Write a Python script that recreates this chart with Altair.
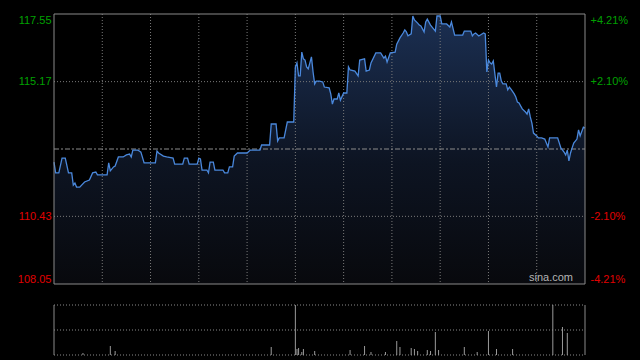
import altair as alt
import pandas as pd

# ---------------- data ----------------
minutes = [0, 1, 3, 5, 7, 9, 11, 12, 13, 14, 16, 19, 22, 24, 26, 27, 33, 34, 35, 37, 38, 40, 43, 45, 47, 48, 49,
           52, 53, 54, 56, 63, 64, 65, 68, 70, 74, 75, 80, 81, 83, 84, 89, 90, 91, 92, 95, 96, 97, 99, 100, 105,
           106, 108, 109, 111, 112, 114, 120, 122, 128, 129, 134, 135, 138, 139, 140, 143, 145, 149,
           150, 151, 152, 153, 154, 155, 156, 157, 158, 160, 161, 162, 163, 165, 167, 168, 171, 172, 173, 174,
           176, 177, 178, 180, 182, 183, 184, 187, 189, 190, 193, 194, 196, 197, 200, 203, 205, 206, 207, 209,
           212, 213, 215, 217, 218, 219, 220, 222, 223, 224, 226, 227, 228, 230, 231, 232, 234, 236, 237, 238,
           240, 241, 244, 246, 247, 249, 254, 255, 259, 260, 261, 262, 264, 265, 267, 268, 269, 270, 271, 272,
           273, 275, 276, 277, 278, 279, 281, 282, 283, 284, 286, 287, 288, 289, 291, 293, 294, 295, 296, 297,
           298, 300, 301, 303, 305, 306, 307, 308, 313, 315, 317, 318, 319, 320, 321, 322, 323, 325, 326, 327,
           329, 330]
prices = [112.34, 111.96, 111.96, 112.48, 112.48, 111.96, 111.96, 111.53, 111.60, 111.46, 111.46, 111.64, 111.71,
          111.96, 111.99, 111.89, 111.89, 112.31, 112.03, 112.17, 112.20, 112.52, 112.52, 112.59, 112.62, 112.52,
          112.76, 112.76, 112.73, 112.69, 112.31, 112.31, 112.73, 112.66, 112.55, 112.52, 112.48, 112.27, 112.27,
          112.48, 112.48, 112.27, 112.27, 112.48, 112.45, 112.06, 112.06, 111.96, 112.34, 112.34, 112.06, 112.06,
          111.96, 111.96, 112.17, 112.17, 112.55, 112.66, 112.66, 112.76, 112.76, 112.94, 112.94, 113.68, 113.68,
          113.08, 113.19, 113.19, 113.75, 113.75,
          115.69, 115.83, 115.37, 115.37, 116.21, 115.97, 115.93, 115.69, 115.62, 116.04, 115.51, 115.09, 115.19,
          115.19, 115.16, 114.98, 114.95, 114.74, 114.38, 114.56, 114.56, 114.77, 114.52, 114.77, 114.77, 115.69,
          115.58, 115.54, 115.37, 115.93, 115.97, 115.54, 115.58, 115.83, 116.18, 116.18, 116.00, 116.07, 115.86,
          116.18, 116.21, 116.49, 116.71, 116.88, 116.99, 116.92, 116.78, 116.85, 117.48, 117.34, 117.23, 117.16,
          117.13, 116.92, 117.27, 117.37, 117.16, 117.02, 116.95, 117.48, 117.48, 117.20, 117.20, 117.09, 117.27,
          116.81, 116.81, 116.95, 116.95, 116.78, 116.85, 116.88, 116.78, 116.81, 116.88, 116.85, 115.51, 115.93,
          115.83, 115.79, 115.90, 114.98, 115.47, 115.47, 115.19, 115.09, 115.09, 114.88, 114.98, 114.91, 114.74,
          114.63, 114.45, 114.42, 114.21, 114.10, 114.03, 114.21, 113.93, 113.71, 113.36, 113.26, 113.19, 113.19,
          113.15, 113.01, 112.87, 113.19, 113.19, 112.84, 112.69, 112.59, 112.76, 112.38, 112.66, 112.84, 113.01,
          113.15, 113.47, 113.26, 113.57, 113.54]

vol_minutes = [18, 35, 38, 135, 150, 151, 152, 154, 155, 162, 184, 193, 197, 206, 213, 215, 222, 224, 226, 232,
               234, 237, 239, 255, 263, 270, 275, 285, 310, 316, 319]
vol_values = [4, 18, 8, 16, 100, 12, 14, 6, 12, 8, 10, 18, 6, 6, 28, 16, 14, 12, 8, 10, 8, 46, 10, 16, 6, 48,
              12, 12, 100, 56, 44]

grid_minutes = [30, 60, 90, 120, 150, 180, 210, 240, 270, 300]
price_ticks = [117.55, 115.17, 110.43, 108.05]
pct_ticks = [4.21, 2.10, -2.10, -4.21]
prev_close = 112.80
p_min, p_max = 108.05, 117.55
pct_lim = 4.21
vol_max = 100
total_minutes = 330

# ---------------- layout ----------------
W, H = 531, 341
PRICE_H = 270
VOL_TOP, VOL_BOT = 291, 341
FONT = "Liberation Sans"
GRID = "#7a7a7a"


def xs():
    return alt.Scale(domain=[0, total_minutes], nice=False, zero=False)


def ps():
    return alt.Scale(domain=[p_min, p_max], range=[PRICE_H, 0], nice=False, zero=False)


def vs():
    return alt.Scale(domain=[0, vol_max], range=[VOL_BOT, VOL_TOP], nice=False, zero=False, clamp=True)


price_df = pd.DataFrame({"m": minutes, "p": prices})
vol_df = pd.DataFrame({"m": vol_minutes, "v": vol_values})
hgrid_df = pd.DataFrame({"v": [price_ticks[1], price_ticks[2]]})
vgrid_df = pd.DataFrame({"m": grid_minutes})
one_df = pd.DataFrame({"k": [0]})

area = alt.Chart(price_df).mark_area(
    color=alt.Gradient(
        gradient="linear",
        stops=[alt.GradientStop(color="#1b2f52", offset=0),
               alt.GradientStop(color="#0d1422", offset=0.55),
               alt.GradientStop(color="#08090d", offset=1)],
        x1=0, x2=0, y1=0, y2=1),
).encode(
    x=alt.X("m:Q", scale=xs(), axis=None),
    y=alt.Y("p:Q", scale=ps(), axis=None),
    y2=alt.datum(p_min),
)

hgrid = alt.Chart(hgrid_df).mark_rule(color=GRID, strokeDash=[1, 2], strokeWidth=1).encode(
    y=alt.Y("v:Q", scale=ps(), axis=None),
    x=alt.XDatum(0, type="quantitative", scale=xs(), axis=None),
    x2=alt.datum(total_minutes),
)

vgrid = alt.Chart(vgrid_df).mark_rule(color=GRID, strokeDash=[1, 2], strokeWidth=1).encode(
    x=alt.X("m:Q", scale=xs(), axis=None),
    y=alt.YDatum(p_max, type="quantitative", scale=ps(), axis=None),
    y2=alt.datum(p_min),
)

midline = alt.Chart(one_df).mark_rule(color="#8c8c8c", strokeDash=[5, 2, 2, 2], strokeWidth=1).encode(
    y=alt.YDatum(0, type="quantitative",
                 scale=alt.Scale(domain=[-pct_lim, pct_lim], range=[PRICE_H, 0], nice=False, zero=False),
                 axis=alt.Axis(orient="right", values=pct_ticks, title=None, ticks=False, domain=False,
                               grid=False, labelFlush=True, labelPadding=5, labelFont=FONT, labelFontSize=11,
                               labelExpr="(datum.value > 0 ? '+' : '-') + format(abs(datum.value), '.2f') + '%'",
                               labelColor={"condition": {"test": "datum.value > 0", "value": "#00a000"},
                                           "value": "#e00000"})),
    x=alt.XDatum(0, type="quantitative", scale=xs(), axis=None),
    x2=alt.datum(total_minutes),
)

line = alt.Chart(price_df).mark_line(color="#4a88dc", strokeWidth=1.3).encode(
    x=alt.X("m:Q", scale=xs(), axis=None),
    y=alt.Y("p:Q", scale=ps(),
            axis=alt.Axis(orient="left", values=price_ticks, format=".2f", title=None, ticks=False,
                          domain=False, grid=False, labelFlush=True, labelPadding=3, labelFont=FONT,
                          labelFontSize=11,
                          labelColor={"condition": {"test": f"datum.value > {prev_close}", "value": "#00a000"},
                                      "value": "#e00000"})),
)

frame = alt.Chart(one_df).mark_rect(fill="transparent", stroke="#8a8a8a", strokeWidth=1).encode(
    x=alt.XDatum(0, type="quantitative", scale=xs(), axis=None),
    x2=alt.datum(total_minutes),
    y=alt.YDatum(p_max, type="quantitative", scale=ps(), axis=None),
    y2=alt.datum(p_min),
)

sina = alt.Chart(one_df).mark_text(
    text="sina.com", align="right", baseline="bottom", color="#b4b4b4", font=FONT, fontSize=11, dx=-12, dy=-1
).encode(
    x=alt.XDatum(total_minutes, type="quantitative", scale=xs(), axis=None),
    y=alt.YDatum(p_min, type="quantitative", scale=ps(), axis=None),
)

# volume panel
vol_lines_df = pd.DataFrame({"v": [vol_max, vol_max / 2, 0]})
vol_grid = alt.Chart(vol_lines_df).mark_rule(color="#8a8a8a", strokeDash=[1, 2], strokeWidth=1).encode(
    y=alt.Y("v:Q", scale=vs(), axis=None),
    x=alt.XDatum(0, type="quantitative", scale=xs(), axis=None),
    x2=alt.datum(total_minutes),
)

vol_side_df = pd.DataFrame({"m": [0, total_minutes]})
vol_sides = alt.Chart(vol_side_df).mark_rule(color="#8a8a8a", strokeWidth=1).encode(
    x=alt.X("m:Q", scale=xs(), axis=None),
    y=alt.YDatum(vol_max, type="quantitative", scale=vs(), axis=None),
    y2=alt.datum(0),
)

vol_bars = alt.Chart(vol_df).mark_rule(color="#9a9a9a", strokeWidth=1).encode(
    x=alt.X("m:Q", scale=xs(), axis=None),
    y=alt.Y("v:Q", scale=vs(), axis=None),
    y2=alt.datum(0),
)

chart = alt.layer(
    area, hgrid, vgrid, midline, line, frame, sina, vol_grid, vol_sides, vol_bars
).resolve_scale(y="independent").properties(
    width=W, height=H,
    padding={"left": 54, "top": 14, "right": 55, "bottom": 5},
    autosize=alt.AutoSizeParams(type="none"),
    background="black",
).configure_view(strokeWidth=0)

chart.save("out.html", embed_options={"renderer": "svg", "actions": False})
